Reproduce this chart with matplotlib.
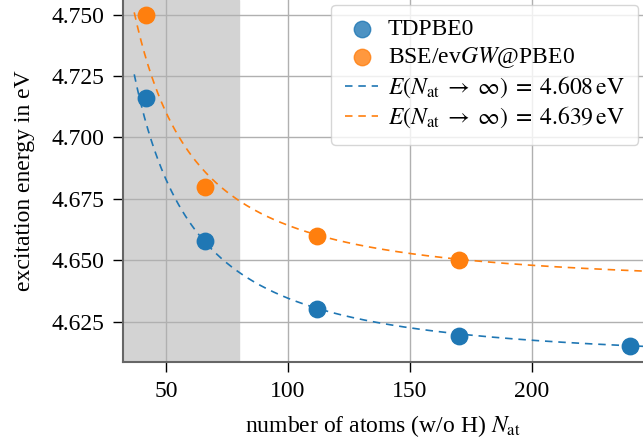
import numpy as np
import matplotlib
matplotlib.use("Agg")
import matplotlib.pyplot as plt

plt.rcParams['font.family'] = ['Liberation Serif', 'DejaVu Serif']
plt.rcParams['mathtext.fontset'] = 'stix'

# data
n_atoms_td = np.array([42, 66, 112, 170, 240])
e_td = np.array([4.716, 4.658, 4.630, 4.619, 4.615])
n_atoms_bse = np.array([42, 66, 112, 170])
e_bse = np.array([4.750, 4.680, 4.660, 4.650])
e_inf_td = 4.608
e_inf_bse = 4.639
power = 1.5

# fit E = E_inf + a * N^-1.5 (a from log-space mean)
def fit_curve(n, e, e_inf, nn):
    a = np.exp(np.mean(np.log(e - e_inf) + power * np.log(n)))
    return e_inf + a * nn**(-power)

nn = np.linspace(37, 246, 300)

fig = plt.figure(figsize=(6.43, 4.42), dpi=100)
ax = fig.add_axes([123/643, 80/442, 1 - 123/643, 1 - 80/442])

ax.axvspan(30, 80, color='lightgray', zorder=0)
ax.grid(True, color='#b0b0b0', lw=1, zorder=1)

ax.scatter(n_atoms_td, e_td, s=140, color='C0', zorder=3, label='TDPBE0')
ax.scatter(n_atoms_bse, e_bse, s=140, color='C1', zorder=3, label=r'BSE/ev$GW$@PBE0')
ax.plot(nn, fit_curve(n_atoms_td, e_td, e_inf_td, nn), color='C0', lw=1.2, zorder=2,
        dashes=(4.5, 3.5), label=r'$E(N_\mathrm{at} \;\to\; \infty) \;=\; 4.608\,\mathrm{eV}$')
ax.plot(nn, fit_curve(n_atoms_bse, e_bse, e_inf_bse, nn), color='C1', lw=1.2, zorder=2,
        dashes=(4.5, 3.5), label=r'$E(N_\mathrm{at} \;\to\; \infty) \;=\; 4.639\,\mathrm{eV}$')

ax.set_xlim(32.4, 245.5)
ax.set_ylim(4.6085, 4.756)
ax.set_xticks([50, 100, 150, 200])
ax.set_yticks([4.625, 4.650, 4.675, 4.700, 4.725, 4.750])
ax.yaxis.set_major_formatter(matplotlib.ticker.FormatStrFormatter('%.3f'))
ax.tick_params(labelsize=17, length=7.5, width=1, pad=6)

for s in ['top', 'right']:
    ax.spines[s].set_visible(False)
for s in ['left', 'bottom']:
    ax.spines[s].set_color('#666666')
    ax.spines[s].set_linewidth(1.5)

ax.set_xlabel(r'number of atoms (w/o H) $N_\mathrm{at}$', fontsize=17, labelpad=8)
ax.set_ylabel('excitation energy in eV', fontsize=17, labelpad=12)

leg = ax.legend(loc='upper right', fontsize=17, framealpha=0.8, fancybox=True,
                edgecolor='#cccccc', handlelength=1.4, handletextpad=0.4,
                labelspacing=0.2, borderaxespad=0.2, borderpad=0.6)
for h in leg.legend_handles[:2]:
    h.set_alpha(0.8)

fig.savefig('out.png', dpi=100)
